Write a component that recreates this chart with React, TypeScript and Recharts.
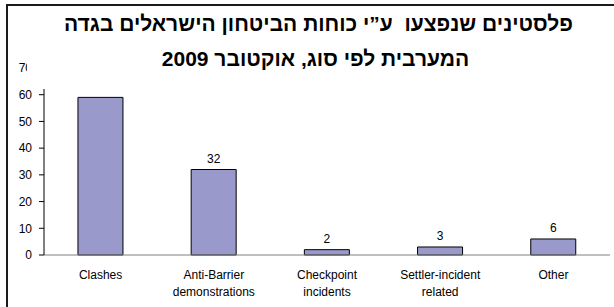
import React from "react";
import { BarChart, Bar, XAxis, YAxis, LabelList } from "recharts";

const categories = [
  "Clashes",
  "Anti-Barrier\ndemonstrations",
  "Checkpoint\nincidents",
  "Settler-incident\nrelated",
  "Other",
];
const values = [59, 32, 2, 3, 6];
const valueLabels = ["", "32", "2", "3", "6"];
const yTicks = [0, 10, 20, 30, 40, 50, 60, 70];
const boundaryTicks = [0, 1, 2, 3, 4, 5];
const titleLines = [
  "פלסטינים שנפצעו  ע”י כוחות הביטחון הישראלים בגדה",
  "המערבית לפי סוג, אוקטובר 2009",
];

const data = categories.map((name, i) => ({ name, value: values[i], label: valueLabels[i] }));

const FONT = "'Liberation Sans', Arial, sans-serif";

const CatTick = (props: any) => {
  const { x, y, payload } = props;
  const lines = String(payload.value).split("\n");
  return (
    <text x={x} y={y} textAnchor="middle" fill="#000" fontSize={12} fontFamily={FONT}>
      {lines.map((l, i) => (
        <tspan key={i} x={x} dy={i === 0 ? "0.71em" : 17}>
          {l}
        </tspan>
      ))}
    </text>
  );
};

export default function App() {
  return (
    <div
      style={{
        position: "absolute",
        left: 0,
        top: 0,
        width: 614,
        height: 307,
        overflow: "hidden",
        background: "#fff",
        fontFamily: FONT,
      }}
    >
      <div
        style={{
          position: "absolute",
          left: 6,
          top: 4,
          width: 700,
          height: 400,
          border: "2px solid #1a1a1a",
          boxSizing: "border-box",
        }}
      />
      <div style={{ position: "absolute", left: 0, top: 0 }}>
        <BarChart
          width={614}
          height={307}
          data={data}
          margin={{ top: 68, right: 4, left: 0, bottom: 0 }}
          barCategoryGap="30%"
        >
          <XAxis
            xAxisId="b"
            dataKey="name"
            interval={0}
            axisLine={false}
            tickLine={false}
            tickSize={0}
            tickMargin={7}
            height={44}
            tick={<CatTick />}
          />
          <XAxis
            xAxisId="a"
            type="number"
            domain={[0, 5]}
            ticks={boundaryTicks}
            allowDataOverflow
            tick={false}
            tickSize={5}
            height={8}
            axisLine={{ stroke: "#808080" }}
            tickLine={{ stroke: "#808080" }}
          />
          <YAxis
            domain={[0, 70]}
            ticks={yTicks}
            width={44}
            tickSize={5}
            tickMargin={7}
            axisLine={{ stroke: "#000" }}
            tickLine={{ stroke: "#000" }}
            tick={{ fill: "#000", fontSize: 12, fontFamily: FONT }}
          />
          <Bar
            xAxisId="b"
            dataKey="value"
            fill="#9999CC"
            stroke="#000"
            strokeWidth={1}
            isAnimationActive={false}
          >
            <LabelList dataKey="label" position="top" offset={7} fill="#000" fontSize={12} fontFamily={FONT} />
          </Bar>
        </BarChart>
      </div>
      <div
        style={{
          position: "absolute",
          left: 27,
          top: 6,
          width: 577,
          height: 83,
          background: "#fff",
          direction: "rtl",
          textAlign: "center",
          fontWeight: "bold",
          fontSize: 21,
          lineHeight: "35px",
          paddingTop: 0,
          boxSizing: "border-box",
          color: "#000",
          whiteSpace: "pre",
        }}
      >
        <div style={{ marginRight: -6 }}>{titleLines[0]}</div>
        <div>{titleLines[1]}</div>
      </div>
    </div>
  );
}
